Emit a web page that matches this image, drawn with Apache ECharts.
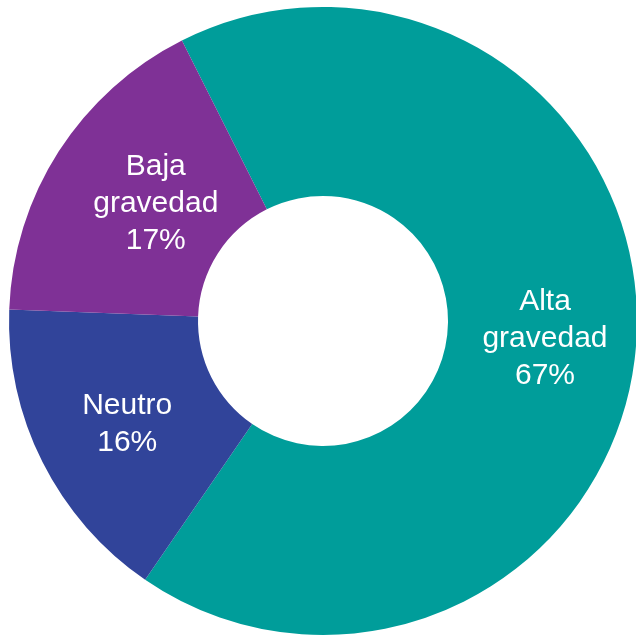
<!DOCTYPE html>
<html>
<head>
<meta charset="utf-8">
<script src="https://cdn.jsdelivr.net/npm/echarts@6/dist/echarts.min.js"></script>
<style>
html, body { margin: 0; padding: 0; background: #ffffff; }
#chart { width: 636px; height: 636px; }
</style>
</head>
<body>
<div id="chart"></div>
<script>
var categories = ['Alta\ngravedad', 'Neutro', 'Baja\ngravedad'];
var values = [67, 16, 17];
var colors = ['#009D9A', '#31449A', '#7F3196'];
var labelOffsets = [[0, 3], [3, 3], [20, 3]];// 标签微调

var pieData = [];
for (var i = 0; i < categories.length; i++) {
	pieData.push({
		name: categories[i],
		value: values[i],
		itemStyle: { color: colors[i] },
		label: { offset: labelOffsets[i] }
	});
}

var option = {
	animation: false,
	series: [{
		type: 'pie',
		center: [323, 321],
		radius: [125, 314],
		startAngle: 116.7,
		clockwise: true,
		data: pieData,
		itemStyle: { borderWidth: 0 },
		label: {
			show: true,
			position: 'inside',
			color: '#ffffff',
			fontFamily: 'Liberation Sans, Arial, sans-serif',
			fontSize: 30,
			lineHeight: 37,
			formatter: function (p) {
				return p.name + '\n' + p.value + '%';
			}
		},
		labelLine: { show: false }
	}]
};

var myChart = echarts.init(document.getElementById('chart'));
myChart.setOption(option);
</script>
</body>
</html>
